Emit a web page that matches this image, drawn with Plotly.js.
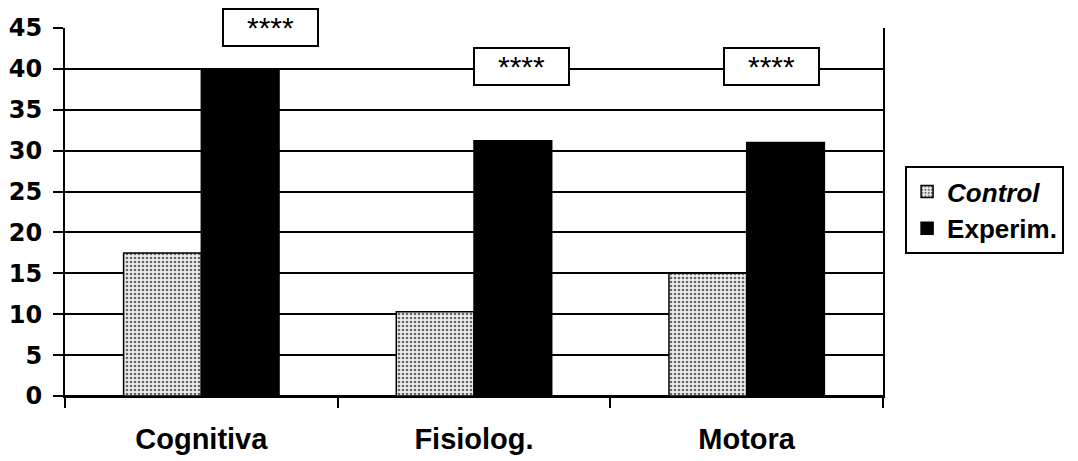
<!DOCTYPE html>
<html>
<head>
<meta charset="utf-8">
<script src="https://cdn.plot.ly/plotly-3.0.1.min.js"></script>
<style>html,body{margin:0;padding:0;background:#fff;}#chart{width:1078px;height:461px;}</style>
</head>
<body>
<div id="chart"></div>
<script>
const categories = ['Cognitiva', 'Fisiolog.', 'Motora'];
const controlValues = [17.5, 10.3, 15.0];
const experimValues = [40.0, 31.2, 31.0];
const seriesNames = ['<i>Control</i>', 'Experim.'];
const yTicks = [0, 5, 10, 15, 20, 25, 30, 35, 40, 45];
const sigLabels = ['****', '****', '****'];

const traces = [
  {
    type: 'bar', x: categories, y: controlValues, name: seriesNames[0],
    marker: {
      color: '#e6e6e6',
      line: {color: '#000', width: 1.5},
      pattern: {shape: '.', fgcolor: '#666', bgcolor: '#eeeeee', size: 4, solidity: 0.35}
    }
  },
  {
    type: 'bar', x: categories, y: experimValues, name: seriesNames[1],
    marker: {color: '#000', line: {color: '#000', width: 1.5}}
  }
];

const annoPos = [
  {xshift: 69, y: 45, yshift: 1},
  {xshift: 47, y: 40, yshift: 2},
  {xshift: 25, y: 40, yshift: 2}
];

const layout = {
  width: 1078, height: 461,
  margin: {l: 65, r: 195, t: 28, b: 65, pad: 0},
  paper_bgcolor: '#fff', plot_bgcolor: '#fff',
  barmode: 'group', bargap: 0.43, bargroupgap: 0,
  showlegend: true,
  legend: {
    x: 1.027, y: 0.625, xanchor: 'left', yanchor: 'top',
    bordercolor: '#000', borderwidth: 2, bgcolor: '#fff',
    font: {family: 'Liberation Sans, Arial, sans-serif', size: 26, color: '#000', weight: 'bold'},
    tracegroupgap: 0, itemwidth: 30
  },
  xaxis: {
    type: 'category',
    showline: true, linecolor: '#000', linewidth: 2,
    ticks: 'outside', tickson: 'boundaries', ticklen: 10, tickwidth: 2, tickcolor: '#000',
    showgrid: false,
    tickfont: {family: 'Liberation Sans, Arial, sans-serif', size: 29, color: '#000', weight: 'bold'},
    ticklabelstandoff: 16
  },
  yaxis: {
    range: [0, 45], tickvals: yTicks, ticktext: yTicks.map(String),
    showline: true, linecolor: '#000', linewidth: 2, mirror: true,
    ticks: 'outside', ticklen: 10, tickwidth: 2, tickcolor: '#000',
    showgrid: true, gridcolor: '#000', gridwidth: 2,
    zeroline: true, zerolinecolor: '#000', zerolinewidth: 2,
    tickfont: {family: 'DejaVu Sans, sans-serif', size: 24, color: '#000', weight: 'bold'},
    ticklabelstandoff: 6
  },
  annotations: categories.map((c, i) => ({
    x: c, y: annoPos[i].y, xref: 'x', yref: 'y',
    xshift: annoPos[i].xshift, yshift: annoPos[i].yshift,
    text: sigLabels[i], showarrow: false,
    bgcolor: '#fff', bordercolor: '#000', borderwidth: 2,
    width: 93, height: 35, borderpad: 0,
    font: {family: 'Liberation Sans, Arial, sans-serif', size: 30, color: '#000'}
  }))
};

Plotly.newPlot('chart', traces, layout, {displayModeBar: false, staticPlot: true});
</script>
</body>
</html>
